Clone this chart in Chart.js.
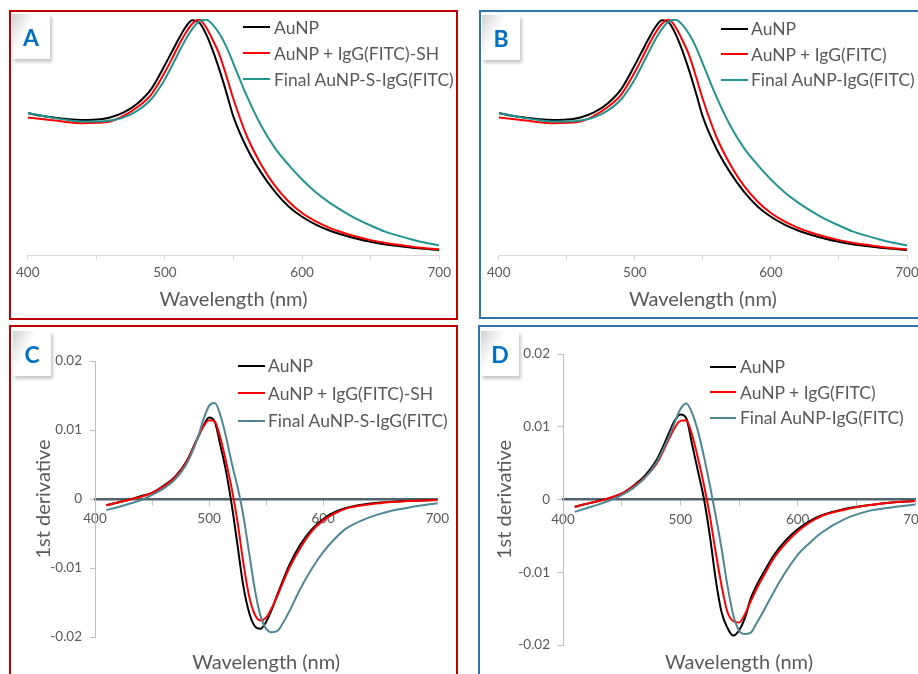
<!DOCTYPE html>
<html>
<head>
<meta charset="utf-8">
<script src="https://cdn.jsdelivr.net/npm/chart.js@4.4.1/dist/chart.umd.min.js"></script>
<style>
  body { margin: 0; width: 918px; height: 674px; overflow: hidden; background: #fff; position: relative; font-family: Lato, 'Open Sans', sans-serif; }
  .frame { position: absolute; box-sizing: border-box; border: 2.5px solid; }
  .cv { position: absolute; }
  .tag { position: absolute; width: 38px; height: 45px; color: #0070c0; font-weight: bold; font-size: 23px;
         display: flex; align-items: center; justify-content: center;
         background: linear-gradient(120deg, #d0d0d0 0%, #ececec 22%, #ffffff 40%, #ffffff 100%);
         box-shadow: 2px 3px 3px rgba(0,0,0,0.22); }
  .legend { position: absolute; color: #595959; font-size: 17.5px; }
  .legend .row { display: flex; align-items: center; white-space: nowrap; }
  .legend .ln { display: inline-block; height: 2px; }
</style>
</head>
<body>

<div class="frame" style="left:9px;top:10px;width:449px;height:310px;border-color:#c00000"></div>
<div class="frame" style="left:479px;top:10px;width:450px;height:309px;border-color:#2e75b6"></div>
<div class="frame" style="left:9px;top:325px;width:449px;height:360px;border-color:#c00000"></div>
<div class="frame" style="left:478px;top:325px;width:450px;height:360px;border-color:#2e75b6"></div>

<canvas class="cv" id="chart-a" width="445" height="305" style="left:11px;top:12px"></canvas>
<canvas class="cv" id="chart-b" width="450" height="305" style="left:482px;top:12px"></canvas>
<canvas class="cv" id="chart-c" width="445" height="350" style="left:11px;top:327px"></canvas>
<canvas class="cv" id="chart-d" width="460" height="350" style="left:480px;top:327px"></canvas>

<div class="tag" style="left:12px;top:14px">A</div>
<div class="tag" style="left:482px;top:15px">B</div>
<div class="tag" style="left:13px;top:331px">C</div>
<div class="tag" style="left:481px;top:331px">D</div>

<div class="legend" id="legend-a" style="left:243px;top:14px"></div>
<div class="legend" id="legend-b" style="left:721px;top:16px"></div>
<div class="legend" id="legend-c" style="left:238px;top:352px"></div>
<div class="legend" id="legend-d" style="left:710px;top:354px"></div>

<script>
// ---- Daten ----

// Absorptionsspektren (A und B), normiert
const WAVE_ABS = [400, 410, 420, 430, 440, 450, 460, 470, 480, 490, 500, 505, 510, 515, 520, 525,
  530, 535, 540, 545, 550, 560, 570, 580, 590, 600, 610, 620, 630, 640, 650, 660, 670, 680, 690, 700];
const ABS_AUNP = [0.602, 0.590, 0.582, 0.575, 0.572, 0.574, 0.583, 0.604, 0.642, 0.703, 0.805, 0.860,
  0.915, 0.965, 0.995, 0.985, 0.936, 0.865, 0.780, 0.685, 0.585, 0.450, 0.350, 0.270, 0.207, 0.162,
  0.129, 0.104, 0.085, 0.069, 0.056, 0.046, 0.038, 0.031, 0.026, 0.021];
const ABS_AUNP_IGG = [0.583, 0.576, 0.570, 0.562, 0.558, 0.560, 0.566, 0.590, 0.627, 0.680, 0.775, 0.830,
  0.888, 0.940, 0.980, 0.998, 0.965, 0.910, 0.845, 0.755, 0.660, 0.500, 0.385, 0.295, 0.228, 0.178,
  0.142, 0.115, 0.094, 0.077, 0.063, 0.052, 0.043, 0.035, 0.029, 0.024];
const ABS_FINAL = [0.602, 0.590, 0.580, 0.571, 0.566, 0.566, 0.570, 0.583, 0.612, 0.660, 0.745, 0.800,
  0.857, 0.912, 0.958, 0.990, 0.997, 0.975, 0.935, 0.880, 0.810, 0.670, 0.550, 0.455, 0.383, 0.320,
  0.266, 0.222, 0.185, 0.152, 0.125, 0.100, 0.082, 0.066, 0.052, 0.041];

// 1. Ableitung (C und D)
const WAVE_DER = [410, 420, 430, 440, 450, 460, 470, 480, 490, 495, 500, 505, 510, 515, 520, 525, 530,
  535, 540, 545, 550, 555, 560, 565, 570, 580, 590, 600, 610, 620, 640, 660, 680, 700];
const DER_C_AUNP = [-0.0009, -0.0005, -0.0001, 0.0004, 0.0009, 0.0019, 0.0032, 0.0054, 0.0089, 0.0106,
  0.0118, 0.0112, 0.0077, 0.0039, -0.0010, -0.0068, -0.0126, -0.0164, -0.0184, -0.0188, -0.0178,
  -0.0160, -0.0138, -0.0117, -0.0097, -0.0066, -0.0044, -0.0029, -0.0019, -0.0013, -0.0007,
  -0.0004, -0.00025, -0.00015];
const DER_C_IGG = [-0.0009, -0.0005, -0.0001, 0.0003, 0.0009, 0.0018, 0.0031, 0.0053, 0.0088, 0.0105,
  0.0114, 0.0112, 0.0088, 0.0053, 0.0014, -0.0034, -0.0092, -0.0140, -0.0167, -0.0176, -0.0172,
  -0.0158, -0.0140, -0.0120, -0.0101, -0.0071, -0.0047, -0.0031, -0.0021, -0.0014, -0.0008,
  -0.00045, -0.00025, -0.00015];
const DER_C_FINAL = [-0.0016, -0.0012, -0.0007, -0.0002, 0.0006, 0.0015, 0.0028, 0.0050, 0.0088, 0.0115,
  0.0135, 0.0139, 0.0121, 0.0089, 0.0051, 0.0017, -0.0024, -0.0077, -0.0130, -0.0169, -0.0188,
  -0.0193, -0.0191, -0.0179, -0.0164, -0.0130, -0.0101, -0.0077, -0.0058, -0.0043, -0.0027,
  -0.0017, -0.0011, -0.0006];
const DER_D_AUNP = [-0.0010, -0.0006, -0.0002, 0.0002, 0.0008, 0.0019, 0.0033, 0.0055, 0.0090, 0.0108,
  0.0117, 0.0112, 0.0076, 0.0039, 0.0002, -0.0048, -0.0108, -0.0154, -0.0176, -0.0187, -0.0180,
  -0.0163, -0.0136, -0.0118, -0.0103, -0.0076, -0.0056, -0.0041, -0.0030, -0.0022, -0.0013,
  -0.0008, -0.0004, -0.0002];
const DER_D_IGG = [-0.00105, -0.0006, -0.00023, 0.00023, 0.0008, 0.0018, 0.0031, 0.0050, 0.0082, 0.0098,
  0.0108, 0.0109, 0.0089, 0.0057, 0.0021, -0.0021, -0.0071, -0.0117, -0.0154, -0.0167, -0.0169,
  -0.0158, -0.0140, -0.0123, -0.0108, -0.0080, -0.0060, -0.0044, -0.0032, -0.0023, -0.0014,
  -0.0008, -0.0004, -0.0002];
const DER_D_FINAL = [-0.0017, -0.0012, -0.0007, -0.0001, 0.0006, 0.0016, 0.0030, 0.0052, 0.0085, 0.0105,
  0.0124, 0.0132, 0.0119, 0.0094, 0.0060, 0.0021, -0.0021, -0.0066, -0.0117, -0.0158, -0.0180,
  -0.0185, -0.0183, -0.0170, -0.0156, -0.0126, -0.0099, -0.0076, -0.0060, -0.0046, -0.0027,
  -0.0016, -0.0011, -0.0007];

const X_LABELED = [400, 500, 600, 700];
const LEGEND_SH = ['AuNP', 'AuNP + IgG(FITC)-SH', 'Final AuNP-S-IgG(FITC)'];
const LEGEND_PLAIN = ['AuNP', 'AuNP + IgG(FITC)', 'Final AuNP-IgG(FITC)'];

const FONT = "Lato, 'Open Sans', sans-serif";
const GRAY_TEXT = '#595959';
const COLORS_ABS = ['#000000', '#ff0000', '#21958f'];
const COLORS_DER = ['#000000', '#ff0000', '#4e8794'];

// ---- Hilfsfunktionen ----

function pts(xs, ys) {
  return xs.map((x, i) => ({ x, y: ys[i] }));
}

function lineSet(label, xs, ys, color, order) {
  return {
    label,
    data: pts(xs, ys),
    borderColor: color,
    backgroundColor: color,
    borderWidth: 2,
    pointRadius: 0,
    cubicInterpolationMode: 'monotone',
    order,
  };
}

function buildLegend(id, labels, colors, rowH, lineW, gap) {
  const el = document.getElementById(id);
  labels.forEach((txt, i) => {
    const row = document.createElement('div');
    row.className = 'row';
    row.style.height = rowH + 'px';
    const ln = document.createElement('span');
    ln.className = 'ln';
    ln.style.width = lineW + 'px';
    ln.style.marginRight = gap + 'px';
    ln.style.background = colors[i];
    row.appendChild(ln);
    row.appendChild(document.createTextNode(txt));
    el.appendChild(row);
  });
}

const xTickLabel = v => X_LABELED.includes(v) ? String(v) : '';

// ---- Charts ----

function buildAbsChart(id, labels, pad) {
  new Chart(document.getElementById(id), {
    type: 'line',
    data: {
      datasets: [
        lineSet(labels[0], WAVE_ABS, ABS_AUNP, COLORS_ABS[0], 3),
        lineSet(labels[1], WAVE_ABS, ABS_AUNP_IGG, COLORS_ABS[1], 2),
        lineSet(labels[2], WAVE_ABS, ABS_FINAL, COLORS_ABS[2], 1),
      ],
    },
    options: {
      responsive: false,
      animation: false,
      layout: { padding: { left: pad.left, right: pad.right, top: pad.top, bottom: 0 } },
      plugins: { legend: { display: false }, tooltip: { enabled: false } },
      scales: {
        x: {
          type: 'linear', min: 400, max: 700,
          afterFit: s => { s.height = pad.axis; },
          ticks: { stepSize: 50, autoSkip: false, maxRotation: 0, padding: 5, color: GRAY_TEXT,
                   font: { family: FONT, size: 13.5 }, callback: xTickLabel },
          grid: { drawOnChartArea: false, tickLength: 5, color: '#d9d9d9' },
          border: { color: '#d9d9d9', width: 1 },
          title: { display: true, text: 'Wavelength (nm)', color: GRAY_TEXT,
                   font: { family: FONT, size: 20 }, padding: { top: 0, bottom: 5 } },
        },
        y: { display: false, min: 0, max: 1 },
      },
    },
  });
}

function buildDerChart(id, labels, series, pad) {
  new Chart(document.getElementById(id), {
    type: 'line',
    data: {
      datasets: [
        lineSet(labels[0], WAVE_DER, series[0], COLORS_DER[0], 3),
        lineSet(labels[1], WAVE_DER, series[1], COLORS_DER[1], 2),
        lineSet(labels[2], WAVE_DER, series[2], COLORS_DER[2], 1),
      ],
    },
    options: {
      responsive: false,
      animation: false,
      layout: { padding: { left: 0, right: pad.right, top: pad.top, bottom: 0 } },
      plugins: { legend: { display: false }, tooltip: { enabled: false } },
      scales: {
        x: {
          type: 'linear', min: 400, max: 700, position: { y: 0 },
          ticks: { stepSize: 50, autoSkip: false, maxRotation: 0, padding: 7, color: GRAY_TEXT,
                   font: { family: FONT, size: 13.5 }, callback: xTickLabel },
          grid: { drawOnChartArea: false, tickLength: 5, color: '#bfbfbf' },
          border: { color: '#526470', width: 2.5 },
        },
        xt: {
          type: 'linear', axis: 'x', position: 'bottom', min: 400, max: 700,
          afterFit: s => { s.height = pad.axis; },
          ticks: { display: false },
          grid: { display: false },
          border: { display: false },
          title: { display: true, text: 'Wavelength (nm)', color: GRAY_TEXT,
                   font: { family: FONT, size: 20 }, padding: { top: 0, bottom: 2 } },
        },
        y: {
          min: -0.02, max: 0.02,
          afterFit: s => { s.width = pad.left; },
          ticks: { stepSize: 0.01, padding: 8, color: GRAY_TEXT, font: { family: FONT, size: 13.5 },
                   callback: v => Math.abs(v) < 1e-9 ? '0' : v.toFixed(2) },
          grid: { drawOnChartArea: false, tickLength: 5, color: '#bfbfbf' },
          border: { color: '#bfbfbf', width: 1 },
          title: { display: true, text: '1st derivative', color: GRAY_TEXT,
                   font: { family: FONT, size: 20 }, padding: { top: pad.ytitle, bottom: 0 } },
        },
      },
    },
  });
}

buildAbsChart('chart-a', LEGEND_SH, { left: 14, right: 15, top: 7, axis: 62 });
buildAbsChart('chart-b', LEGEND_PLAIN, { left: 12, right: 25, top: 7, axis: 62 });
buildDerChart('chart-c', LEGEND_SH, [DER_C_AUNP, DER_C_IGG, DER_C_FINAL],
  { left: 84, right: 14, top: 34, axis: 40, ytitle: 21 });
buildDerChart('chart-d', LEGEND_PLAIN, [DER_D_AUNP, DER_D_IGG, DER_D_FINAL],
  { left: 83, right: 25, top: 27, axis: 32, ytitle: 13 });

buildLegend('legend-a', LEGEND_SH, COLORS_ABS, 26, 27, 4);
buildLegend('legend-b', LEGEND_PLAIN, COLORS_ABS, 25.5, 27, 3);
buildLegend('legend-c', LEGEND_SH, COLORS_DER, 27.5, 27, 3);
buildLegend('legend-d', LEGEND_PLAIN, COLORS_DER, 25.5, 26, 4);
</script>
</body>
</html>
